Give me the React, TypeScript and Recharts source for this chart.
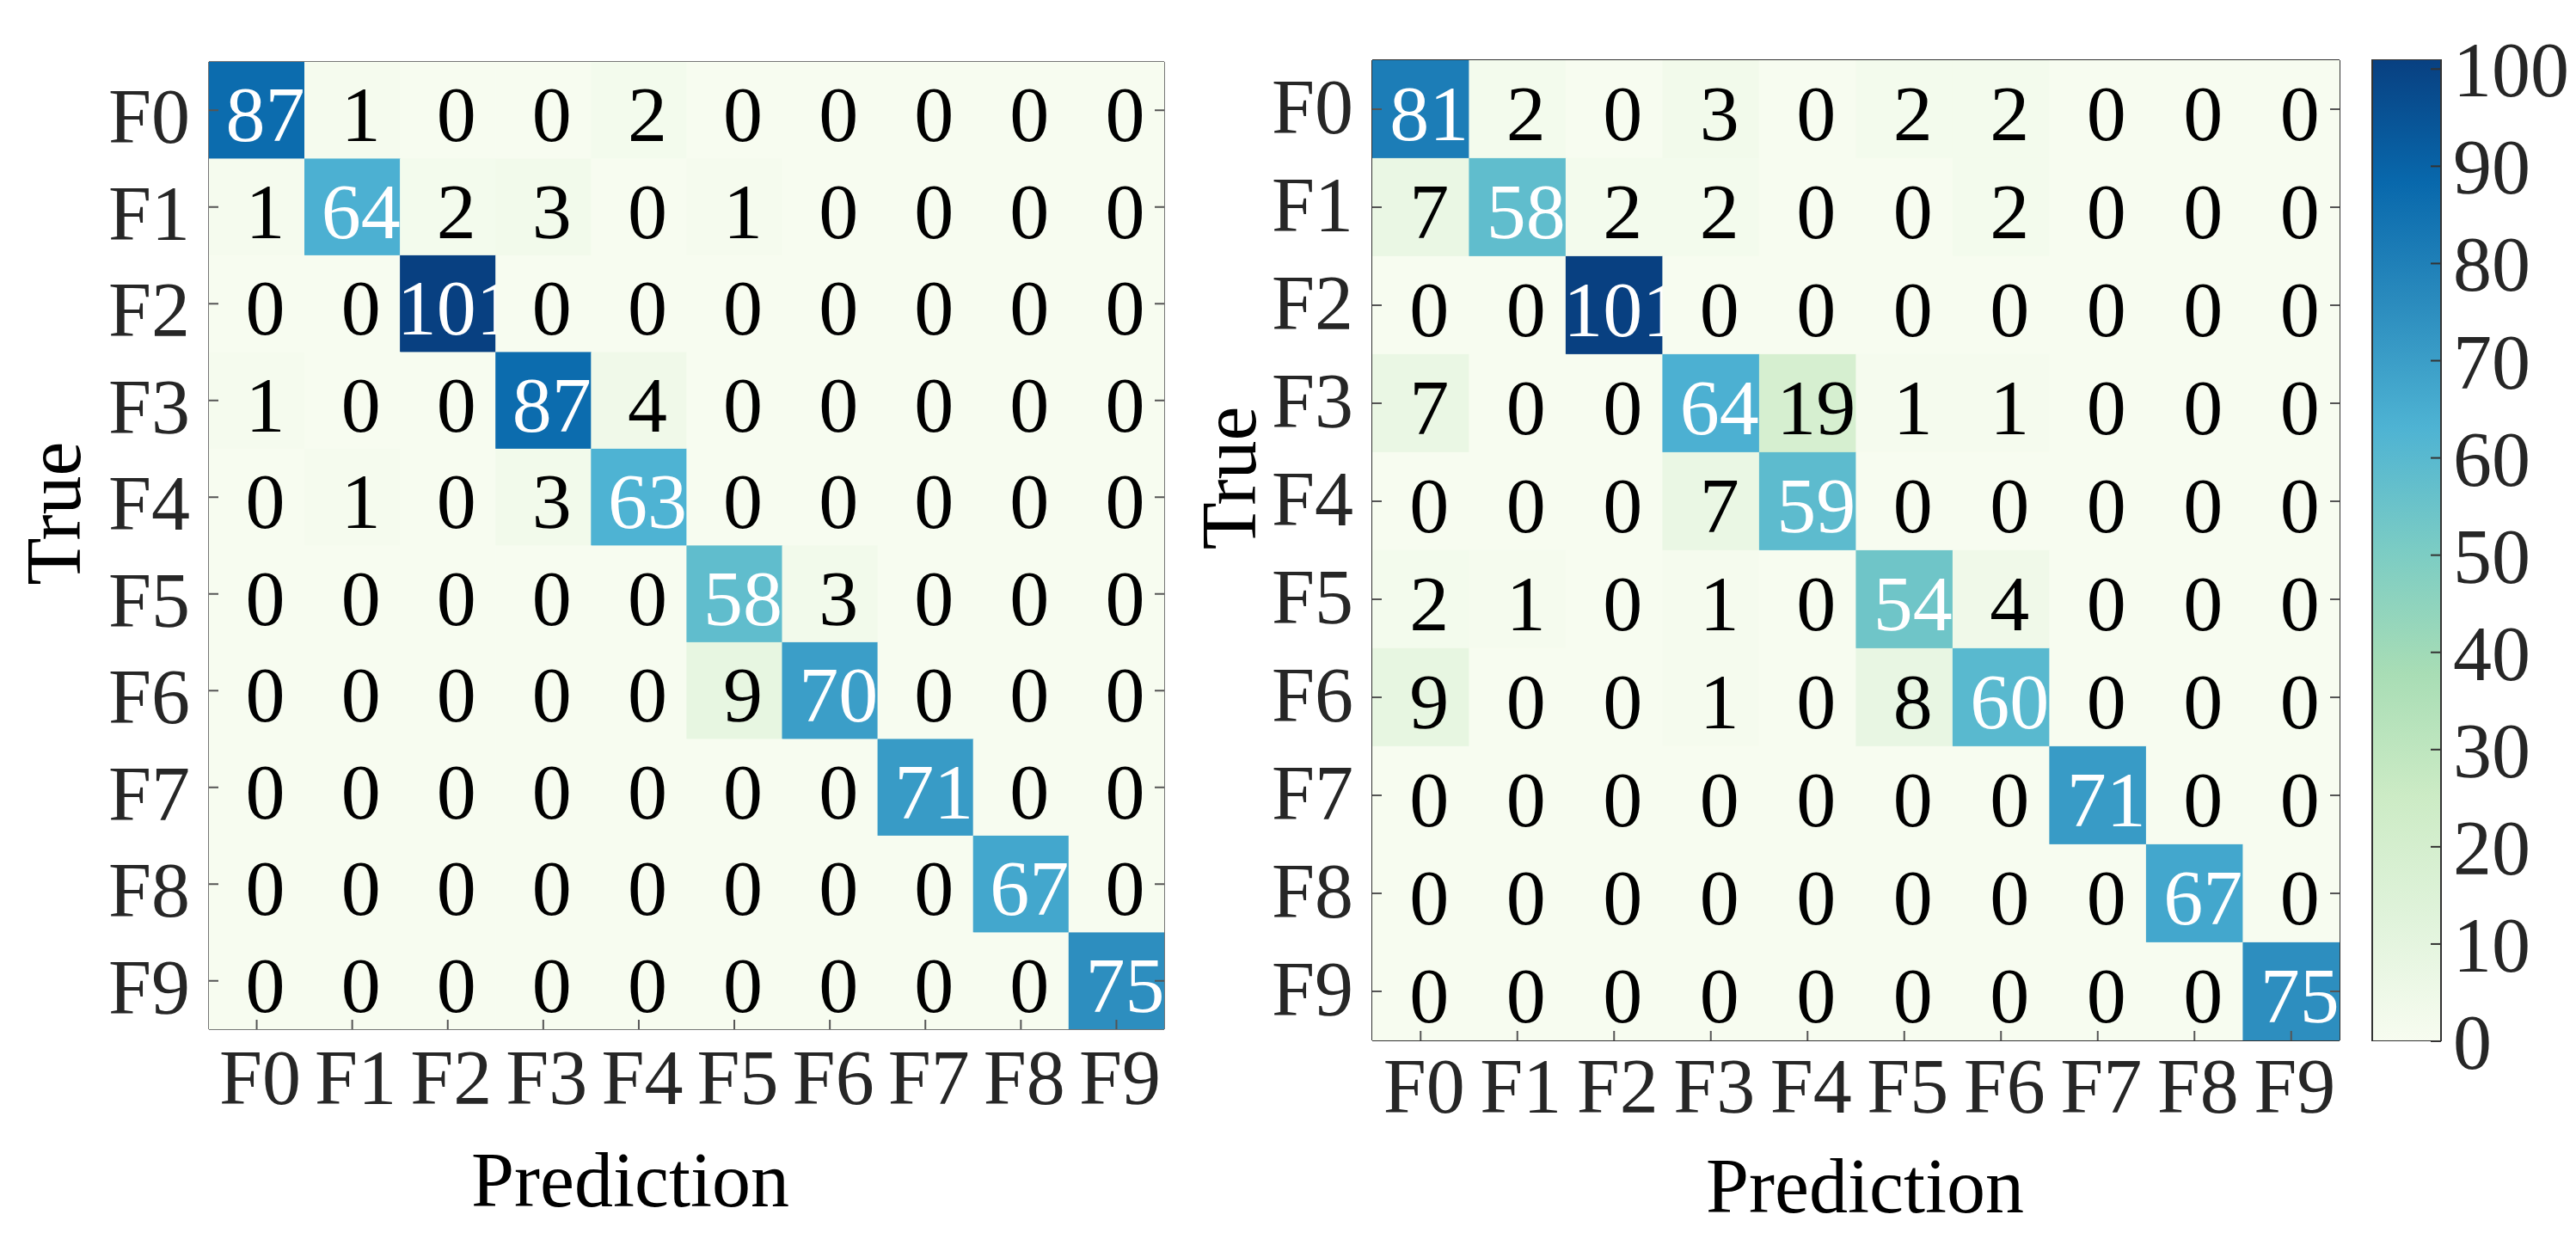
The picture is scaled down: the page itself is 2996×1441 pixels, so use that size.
import { ScatterChart, Scatter, XAxis, YAxis, BarChart, Bar, Label } from 'recharts';

// class names on both axes
const classes = ['F0', 'F1', 'F2', 'F3', 'F4', 'F5', 'F6', 'F7', 'F8', 'F9'];
const classIdx = classes.map((_, i) => i);

// rows = true class, columns = predicted class
const leftMatrix = [
  [87, 1, 0, 0, 2, 0, 0, 0, 0, 0],
  [1, 64, 2, 3, 0, 1, 0, 0, 0, 0],
  [0, 0, 101, 0, 0, 0, 0, 0, 0, 0],
  [1, 0, 0, 87, 4, 0, 0, 0, 0, 0],
  [0, 1, 0, 3, 63, 0, 0, 0, 0, 0],
  [0, 0, 0, 0, 0, 58, 3, 0, 0, 0],
  [0, 0, 0, 0, 0, 9, 70, 0, 0, 0],
  [0, 0, 0, 0, 0, 0, 0, 71, 0, 0],
  [0, 0, 0, 0, 0, 0, 0, 0, 67, 0],
  [0, 0, 0, 0, 0, 0, 0, 0, 0, 75],
];

const rightMatrix = [
  [81, 2, 0, 3, 0, 2, 2, 0, 0, 0],
  [7, 58, 2, 2, 0, 0, 2, 0, 0, 0],
  [0, 0, 101, 0, 0, 0, 0, 0, 0, 0],
  [7, 0, 0, 64, 19, 1, 1, 0, 0, 0],
  [0, 0, 0, 7, 59, 0, 0, 0, 0, 0],
  [2, 1, 0, 1, 0, 54, 4, 0, 0, 0],
  [9, 0, 0, 1, 0, 8, 60, 0, 0, 0],
  [0, 0, 0, 0, 0, 0, 0, 71, 0, 0],
  [0, 0, 0, 0, 0, 0, 0, 0, 67, 0],
  [0, 0, 0, 0, 0, 0, 0, 0, 0, 75],
];

const colorbarTicks = [0, 10, 20, 30, 40, 50, 60, 70, 80, 90, 100];

// GnBu colormap
const GNBU = ['#f7fcf0', '#e0f3db', '#ccebc5', '#a8ddb5', '#7bccc4', '#4eb3d3', '#2b8cbe', '#0868ac', '#084081'];
const cmax = Math.max(...leftMatrix.flat(), ...rightMatrix.flat());

const hex = (h: string) => [1, 3, 5].map((i) => parseInt(h.slice(i, i + 2), 16));
function gnbu(v: number) {
  const p = Math.max(0, Math.min(1, v / cmax)) * (GNBU.length - 1);
  const i = Math.min(Math.floor(p), GNBU.length - 2);
  const f = p - i;
  const a = hex(GNBU[i]);
  const b = hex(GNBU[i + 1]);
  const c = a.map((x, k) => Math.round(x + (b[k] - x) * f));
  return `rgb(${c[0]},${c[1]},${c[2]})`;
}

const H = 1441;
const FONT = "'Liberation Serif', 'Times New Roman', serif";
const TICK = 11;
const tickColor = '#555';

type Layout = {
  left: number;
  width: number;
  margin: { top: number; right: number; bottom: number; left: number };
  frame: string;
  trueX: number;
  trueY: number;
  predX: number;
  predY: number;
  rowDy: number;
  colDy: number;
};

const leftLayout: Layout = {
  left: 0,
  width: 1380,
  margin: { top: 71, right: 25, bottom: 243, left: 242 },
  frame: '#777',
  trueX: 93,
  trueY: 597,
  predX: 733,
  predY: 1403,
  rowDy: 38,
  colDy: 87,
};

const rightLayout: Layout = {
  left: 1380,
  width: 1360,
  margin: { top: 69, right: 18, bottom: 230, left: 215 },
  frame: '#333',
  trueX: 80,
  trueY: 556,
  predX: 789,
  predY: 1410,
  rowDy: 28,
  colDy: 84,
};

function ConfusionPanel({ matrix, layout }: { matrix: number[][]; layout: Layout }) {
  const { margin } = layout;
  const cw = (layout.width - margin.left - margin.right) / classes.length;
  const ch = (H - margin.top - margin.bottom) / classes.length;
  const cells = matrix.flatMap((row, r) => row.map((v, c) => ({ col: c, row: r, value: v })));
  const frame = { stroke: layout.frame, strokeWidth: 2 };

  const renderCell = (p: any) => {
    const v = p.payload.value;
    return (
      <g>
        <rect x={p.cx - cw / 2} y={p.cy - ch / 2} width={cw + 0.5} height={ch + 0.5} fill={gnbu(v)} />
        <text
          x={p.cx + 10}
          y={p.cy + 36}
          textAnchor="middle"
          fontFamily={FONT}
          fontSize={92}
          fill={v >= 40 ? '#fff' : '#000'}
        >
          {v}
        </text>
      </g>
    );
  };

  return (
    <div style={{ position: 'absolute', left: layout.left, top: 0 }}>
      <ScatterChart width={layout.width} height={H} margin={margin}>
        <Scatter data={cells} dataKey="value" shape={renderCell} isAnimationActive={false} />
        <XAxis
          type="number"
          dataKey="col"
          domain={[-0.5, 9.5]}
          allowDataOverflow
          ticks={classIdx}
          interval={0}
          height={1}
          tickSize={0}
          tickMargin={0}
          tickLine={false}
          axisLine={frame}
          tick={(p: any) => (
            <g>
              <line x1={p.x} x2={p.x} y1={p.y} y2={p.y - TICK} stroke={tickColor} strokeWidth={2} />
              <text x={p.x + 4} y={p.y + layout.colDy} textAnchor="middle" fontFamily={FONT} fontSize={90} fill="#262626">
                {classes[p.payload.value]}
              </text>
            </g>
          )}
        >
          <Label
            content={() => (
              <text x={layout.predX} y={layout.predY} textAnchor="middle" fontFamily={FONT} fontSize={90} fill="#000">
                Prediction
              </text>
            )}
          />
        </XAxis>
        <XAxis
          xAxisId="top"
          orientation="top"
          type="number"
          domain={[-0.5, 9.5]}
          allowDataOverflow
          ticks={classIdx}
          interval={0}
          height={1}
          tickSize={0}
          tickMargin={0}
          tickLine={false}
          axisLine={frame}
          tick={(p: any) => <line x1={p.x} x2={p.x} y1={p.y} y2={p.y + TICK} stroke={tickColor} strokeWidth={2} />}
        />
        <YAxis
          type="number"
          dataKey="row"
          domain={[-0.5, 9.5]}
          allowDataOverflow
          reversed
          ticks={classIdx}
          interval={0}
          width={1}
          tickSize={0}
          tickMargin={0}
          tickLine={false}
          axisLine={frame}
          tick={(p: any) => (
            <g>
              <line x1={p.x} x2={p.x + TICK} y1={p.y} y2={p.y} stroke={tickColor} strokeWidth={2} />
              <text x={p.x - 22} y={p.y + layout.rowDy} textAnchor="end" fontFamily={FONT} fontSize={90} fill="#262626">
                {classes[p.payload.value]}
              </text>
            </g>
          )}
        >
          <Label
            content={() => (
              <text
                x={layout.trueX}
                y={layout.trueY}
                transform={`rotate(-90 ${layout.trueX} ${layout.trueY})`}
                textAnchor="middle"
                fontFamily={FONT}
                fontSize={90}
                fill="#000"
              >
                True
              </text>
            )}
          />
        </YAxis>
        <YAxis
          yAxisId="right"
          orientation="right"
          type="number"
          domain={[-0.5, 9.5]}
          allowDataOverflow
          reversed
          ticks={classIdx}
          interval={0}
          width={1}
          tickSize={0}
          tickMargin={0}
          tickLine={false}
          axisLine={frame}
          tick={(p: any) => <line x1={p.x} x2={p.x - TICK} y1={p.y} y2={p.y} stroke={tickColor} strokeWidth={2} />}
        />
      </ScatterChart>
    </div>
  );
}

function Colorbar() {
  const data = [{ name: 'scale', value: cmax }];
  return (
    <div style={{ position: 'absolute', left: 2740, top: 0 }}>
      <BarChart width={256} height={H} data={data} margin={{ top: 69, right: 156, bottom: 230, left: 19 }} barCategoryGap={0}>
        <defs>
          <linearGradient id="gnbuGrad" x1="0" y1="1" x2="0" y2="0">
            {GNBU.map((c, i) => (
              <stop key={c} offset={`${(i / (GNBU.length - 1)) * 100}%`} stopColor={c} />
            ))}
          </linearGradient>
        </defs>
        <XAxis dataKey="name" hide />
        <Bar dataKey="value" fill="url(#gnbuGrad)" stroke="#333" strokeWidth={2} isAnimationActive={false} />
        <YAxis
          orientation="right"
          domain={[0, cmax]}
          allowDataOverflow
          ticks={colorbarTicks}
          interval={0}
          width={1}
          tickSize={0}
          tickMargin={0}
          tickLine={false}
          axisLine={false}
          tick={(p: any) => (
            <g>
              <line x1={p.x} x2={p.x - 12} y1={p.y} y2={p.y} stroke="#333" strokeWidth={2} />
              <text x={p.x + 14} y={p.y + 32} textAnchor="start" fontFamily={FONT} fontSize={90} fill="#262626">
                {p.payload.value}
              </text>
            </g>
          )}
        />
      </BarChart>
    </div>
  );
}

export default function App() {
  return (
    <div style={{ position: 'absolute', left: 0, top: 0, width: 2996, height: H, background: '#fff' }}>
      <ConfusionPanel matrix={leftMatrix} layout={leftLayout} />
      <ConfusionPanel matrix={rightMatrix} layout={rightLayout} />
      <Colorbar />
    </div>
  );
}
